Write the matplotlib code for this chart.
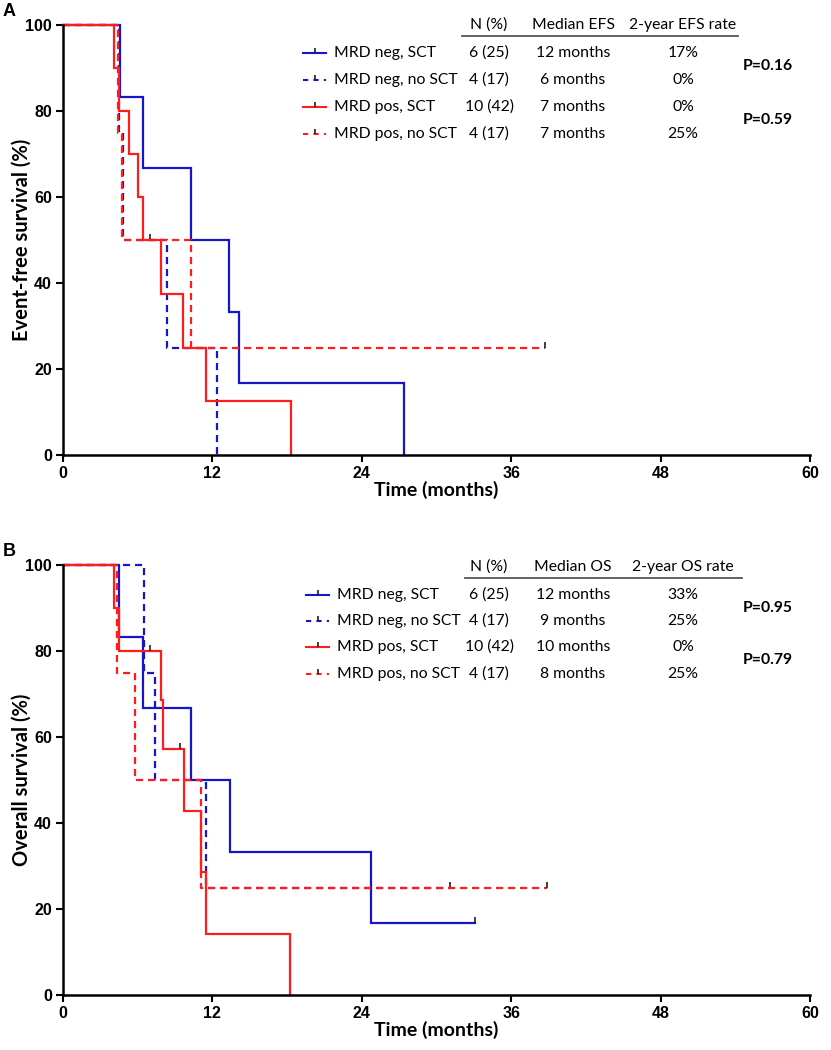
import matplotlib
matplotlib.use("Agg")
import matplotlib.pyplot as plt
from matplotlib.lines import Line2D

# ---------------- data ----------------
groups = ["MRD neg, SCT", "MRD neg, no SCT", "MRD pos, SCT", "MRD pos, no SCT"]
n_pct = ["6 (25)", "4 (17)", "10 (42)", "4 (17)"]

# Panel A: Event-free survival
efs_median = ["12 months", "6 months", "7 months", "7 months"]
efs_rate = ["17%", "0%", "0%", "25%"]
efs_times = [
    [0, 4.58, 6.4, 10.3, 13.3, 14.1, 27.4],
    [0, 4.52, 4.84, 8.33, 12.35],
    [0, 4.1, 4.47, 5.3, 6.05, 6.45, 7.85, 9.6, 11.5, 18.3],
    [0, 4.42, 4.74, 10.3, 38.7],
]
efs_surv = [
    [100, 83.3, 66.7, 50, 33.3, 16.7, 0],
    [100, 75, 50, 25, 0],
    [100, 90, 80, 70, 60, 50, 37.5, 25, 12.5, 0],
    [100, 75, 50, 25, 25],
]
efs_censor = [[], [], [7.0], [38.7]]
efs_p = ["P=0.16", "P=0.59"]

# Panel B: Overall survival
os_median = ["12 months", "9 months", "10 months", "8 months"]
os_rate = ["33%", "25%", "0%", "25%"]
os_times = [
    [0, 4.52, 6.4, 10.3, 13.4, 24.7, 33.1],
    [0, 6.53, 7.4, 11.5, 31.1],
    [0, 4.1, 4.47, 7.87, 8.0, 9.7, 11.1, 11.5, 18.2],
    [0, 4.3, 5.8, 11.1, 38.9],
]
os_surv = [
    [100, 83.3, 66.7, 50, 33.3, 16.7, 16.7],
    [100, 75, 50, 25, 25],
    [100, 90, 80, 68.6, 57.1, 42.9, 28.6, 14.3, 0],
    [100, 75, 50, 25, 25],
]
os_censor = [[33.1], [31.1], [7.0, 9.4], [38.9]]
os_p = ["P=0.95", "P=0.79"]

x_ticks = [0, 12, 24, 36, 48, 60]
y_ticks = [0, 20, 40, 60, 80, 100]

# ---------------- style ----------------
BLUE = "#1616c8"
RED = "#ff1c1c"
colors = [BLUE, BLUE, RED, RED]
dashed = [False, True, False, True]
W, H = 831, 1050
TF = "Lato"
AX_FONT = "Liberation Sans"

fig = plt.figure(figsize=(W / 100, H / 100), dpi=100)


def fx(px):
    return px / W


def fy(py):
    return 1 - py / H


def step_value(times, surv, t):
    v = surv[0]
    for ti, si in zip(times, surv):
        if ti <= t:
            v = si
    return v


def draw_panel(top_px, bottom_px, times_l, surv_l, cens_l, ylabel, letter,
               med_l, rate_l, hdr_med, hdr_rate, pvals, tbl):
    ax = fig.add_axes([fx(63), fy(bottom_px), fx(810) - fx(63), fy(top_px) - fy(bottom_px)])
    for times, surv, cens, c, d in zip(times_l, surv_l, cens_l, colors, dashed):
        ls = (0, (3.2, 2.2)) if d else "-"
        ax.step(times, surv, where="post", color=c, lw=1.6, ls=ls, clip_on=False,
                solid_joinstyle="miter")
        for t in cens:
            v = step_value(times, surv, t)
            ax.plot([t], [v], marker=2, ms=4, mew=1.2, color="#202020", clip_on=False)
    ax.set_xlim(0, 60)
    ax.set_ylim(0, 100)
    for s in ["top", "right"]:
        ax.spines[s].set_visible(False)
    for s in ["left", "bottom"]:
        ax.spines[s].set_linewidth(1.8)
    ax.set_xticks(x_ticks)
    ax.set_yticks(y_ticks)
    ax.tick_params(direction="out", length=5, width=1.5, pad=3)
    for lab in ax.get_xticklabels() + ax.get_yticklabels():
        lab.set_fontfamily(AX_FONT)
        lab.set_fontweight("bold")
        lab.set_fontsize(11.5)
    ax.set_xlabel("Time (months)", family=TF, fontweight="bold", fontsize=14)
    ax.xaxis.set_label_coords(0.5, -(490 - bottom_px) / (bottom_px - top_px) - 0.0)
    ax.set_ylabel(ylabel, family=TF, fontweight="bold", fontsize=14.5)
    ax.yaxis.set_label_coords((22 - 63) / 747, 0.5)
    ax.xaxis.label.set_va("center")
    ax.yaxis.label.set_va("center")
    fig.text(fx(3), fy(top_px - 13), letter, family=AX_FONT, fontweight="bold",
             fontsize=13, va="center", ha="left")

    # table-style legend
    hy, uy, rows, hx0, hx1, lx = tbl
    col_n, col_m, col_r = 489, 573, 683
    fs = 11.3
    fig.text(fx(col_n), fy(hy), "N (%)", family=TF, fontsize=fs, ha="center", va="center")
    fig.text(fx(col_m), fy(hy), hdr_med, family=TF, fontsize=fs, ha="center", va="center")
    fig.text(fx(col_r), fy(hy), hdr_rate, family=TF, fontsize=fs, ha="center", va="center")
    fig.add_artist(Line2D([fx(hx0), fx(hx1)], [fy(uy), fy(uy)], color="#555555", lw=1.3))
    for i, ry in enumerate(rows):
        ls = (0, (2.5, 2.5)) if dashed[i] else "-"
        fig.add_artist(Line2D([fx(lx), fx(lx + 23)], [fy(ry), fy(ry)], color=colors[i],
                              lw=1.5, ls=ls))
        fig.add_artist(Line2D([fx(lx + 11.5)], [fy(ry)], marker=2, ms=3.5, mew=1.2,
                              color="#202020"))
        fig.text(fx(lx + 31), fy(ry), groups[i], family=TF, fontsize=fs, ha="left", va="center")
        fig.text(fx(col_n), fy(ry), n_pct[i], family=TF, fontsize=fs, ha="center", va="center")
        fig.text(fx(col_m), fy(ry), med_l[i], family=TF, fontsize=fs, ha="center", va="center")
        fig.text(fx(col_r), fy(ry), rate_l[i], family=TF, fontsize=fs, ha="center", va="center")
    p1y = (rows[0] + rows[1]) / 2
    p2y = (rows[2] + rows[3]) / 2
    fig.text(fx(743), fy(p1y), pvals[0], family=TF, fontweight="bold", fontsize=fs,
             ha="left", va="center")
    fig.text(fx(743), fy(p2y), pvals[1], family=TF, fontweight="bold", fontsize=fs,
             ha="left", va="center")
    return ax


ax_a = draw_panel(25, 455, efs_times, efs_surv, efs_censor, "Event-free survival (%)", "A",
                  efs_median, efs_rate, "Median EFS", "2-year EFS rate", efs_p,
                  (25, 36, [53, 80, 107, 134], 462, 738, 303))
ax_b = draw_panel(565, 995, os_times, os_surv, os_censor, "Overall survival (%)", "B",
                  os_median, os_rate, "Median OS", "2-year OS rate", os_p,
                  (567, 578, [595, 621, 647, 674], 465, 742, 306))
ax_b.xaxis.set_label_coords(0.5, -(1030 - 995) / 430)

fig.savefig("out.png", dpi=100)
